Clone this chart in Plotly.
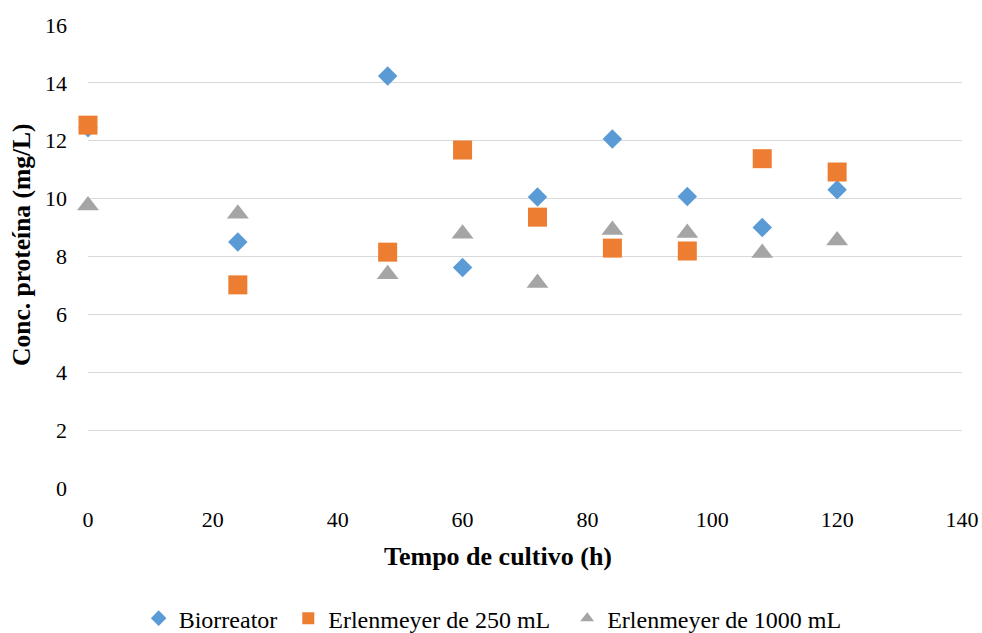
import plotly.graph_objects as go

tempo = [0, 24, 48, 60, 72, 84, 96, 108, 120]
biorreator = [12.45, 8.50, 14.24, 7.62, 10.06, 12.06, 10.07, 9.00, 10.31]
erlen_250 = [12.54, 7.02, 8.15, 11.68, 9.36, 8.29, 8.19, 11.38, 10.92]
erlen_1000 = [9.76, 9.48, 7.39, 8.79, 7.08, 8.92, 8.81, 8.12, 8.55]

x_ticks = [0, 20, 40, 60, 80, 100, 120, 140]
y_ticks = [0, 2, 4, 6, 8, 10, 12, 14, 16]

series_names = ["Biorreator", "Erlenmeyer de 250 mL", "Erlenmeyer de 1000 mL"]

FONT = "Liberation Serif"
NB = "\u00a0"

fig = go.Figure()
fig.add_trace(go.Scatter(
    x=tempo, y=biorreator, mode="markers", name=series_names[0] + NB,
    marker=dict(symbol="diamond", size=15, color="#5B9BD5"),
    cliponaxis=False))
fig.add_trace(go.Scatter(
    x=tempo, y=erlen_250, mode="markers", name=series_names[1] + NB * 2,
    marker=dict(symbol="square", size=19, color="#ED7D31"),
    cliponaxis=False))
fig.add_trace(go.Scatter(
    x=tempo, y=erlen_1000, mode="markers", name=series_names[2],
    marker=dict(symbol="triangle-up", size=19, color="#A5A5A5"),
    cliponaxis=False))

fig.update_layout(
    width=982, height=633,
    margin=dict(l=88, r=20, t=25, b=145, autoexpand=False),
    paper_bgcolor="white", plot_bgcolor="white",
    font=dict(family=FONT, size=22, color="black"),
    showlegend=True,
    legend=dict(orientation="h", x=0.463, xanchor="center", y=-0.282,
                yanchor="middle", font=dict(family=FONT, size=24),
                itemsizing="constant", tracegroupgap=0),
    annotations=[
        dict(text="<b>Tempo de cultivo (h)</b>", xref="paper", yref="paper",
             x=0.469, y=-0.149, xanchor="center", yanchor="middle",
             showarrow=False, font=dict(family=FONT, size=26)),
        dict(text="<b>Conc. proteína (mg/L)</b>", xref="paper", yref="paper",
             x=-0.0755, y=0.525, xanchor="center", yanchor="middle",
             textangle=-90, showarrow=False, font=dict(family=FONT, size=25.5)),
    ],
)
fig.update_xaxes(range=[0, 140], tickvals=x_ticks, showgrid=False,
                 zeroline=False, showline=False, ticks="", automargin=False,
                 ticklabelstandoff=16, tickfont=dict(family=FONT, size=22))
fig.update_yaxes(range=[0, 16], tickvals=y_ticks, showgrid=True,
                 gridcolor="#D9D9D9", gridwidth=1.3, zeroline=False,
                 showline=False, ticks="", automargin=False,
                 ticklabelstandoff=20, tickfont=dict(family=FONT, size=22))

fig.write_html(
    "out.html",
    config={"displayModeBar": False},
    post_script="document.body.style.margin='0';document.body.style.overflow='hidden';",
)
